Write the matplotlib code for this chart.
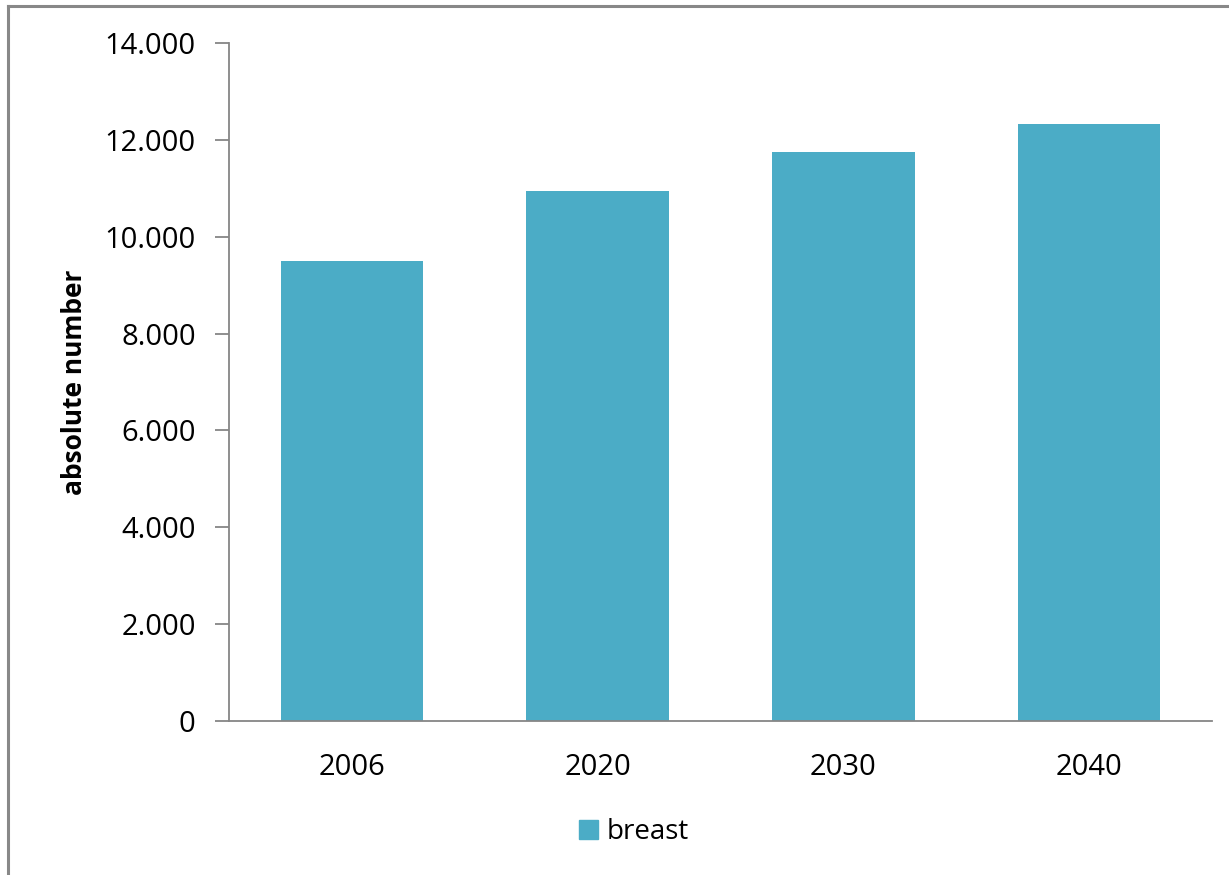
import matplotlib.pyplot as plt
from matplotlib.lines import Line2D
from matplotlib.patches import Patch
from matplotlib.ticker import FuncFormatter, MultipleLocator

years = ['2006', '2020', '2030', '2040']
breast = [9500, 10940, 11750, 12330]

bar_color = '#4BACC6'
axis_color = '#868686'

plt.rcParams['font.family'] = ['Open Sans', 'DejaVu Sans']

W, H = 1229, 875
fig = plt.figure(figsize=(W / 100, H / 100), dpi=100)

# plot area in pixel coordinates
x0, x1, y0, y1 = 229, 1212, 721, 43
ax = fig.add_axes([x0 / W, 1 - y0 / H, (x1 - x0) / W, (y0 - y1) / H])

pos = range(len(years))
ax.bar(pos, breast, width=0.58, color=bar_color, zorder=2)
ax.set_xlim(-0.5, len(years) - 0.5)
ax.set_ylim(0, 14000)
ax.yaxis.set_major_locator(MultipleLocator(2000))
ax.yaxis.set_major_formatter(FuncFormatter(lambda v, p: f'{int(v):,}'.replace(',', '.')))
ax.set_xticks(list(pos))
ax.set_xticklabels(years)

for s in ['top', 'right']:
    ax.spines[s].set_visible(False)
for s in ['left', 'bottom']:
    ax.spines[s].set_color(axis_color)
    ax.spines[s].set_linewidth(1.3)
ax.tick_params(axis='y', length=10, width=1.3, color=axis_color, pad=14, labelsize=21)
ax.tick_params(axis='x', length=0, pad=23, labelsize=21)

ax.set_ylabel('absolute number', fontsize=19, fontweight='bold')
ax.yaxis.set_label_coords((88 - x0) / (x1 - x0), 0.5)

# outer chart border (top and left edges)
fig.add_artist(Line2D([8 / W, 1], [1 - 6 / H, 1 - 6 / H], color='#888888', lw=2.2,
                      transform=fig.transFigure))
fig.add_artist(Line2D([8 / W, 8 / W], [0, 1 - 6 / H], color='#888888', lw=2.2,
                      transform=fig.transFigure))

fig.legend(handles=[Patch(color=bar_color, label='breast')], loc='center',
           bbox_to_anchor=(634 / W, 1 - 832 / H), frameon=False, fontsize=20,
           handlelength=0.7, handleheight=0.7, handletextpad=0.3)

fig.savefig('out.png', dpi=100)
